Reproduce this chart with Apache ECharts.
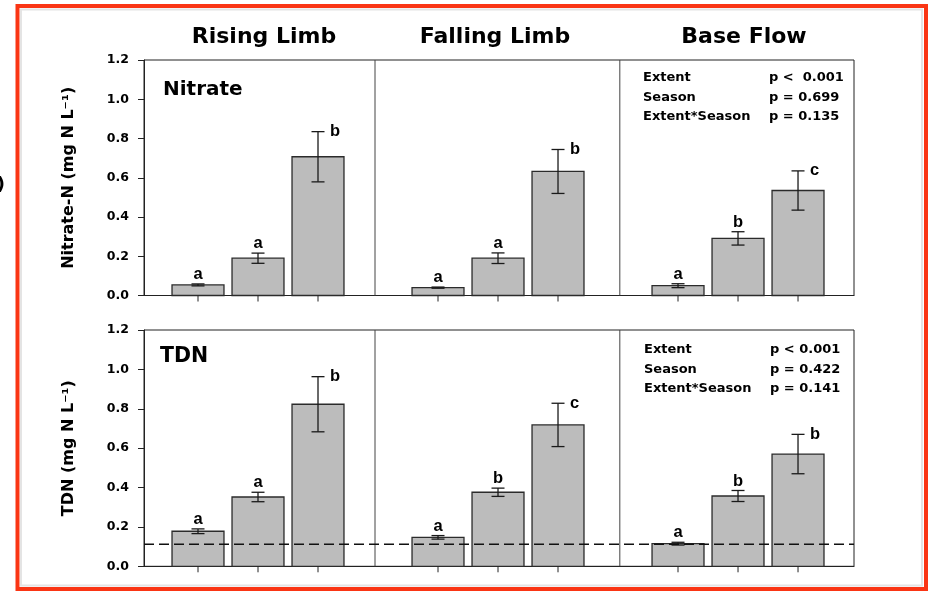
<!DOCTYPE html>
<html><head><meta charset="utf-8">
<script src="https://cdn.jsdelivr.net/npm/echarts@6/dist/echarts.min.js"></script>
<style>html,body{margin:0;padding:0;background:#fff}#c{width:929px;height:591px}</style>
</head><body><div id="c"></div>
<script>
// ---- data ----
const sections = ['Rising Limb', 'Falling Limb', 'Base Flow'];
const nitrateMean = [0.054, 0.190, 0.707, 0.040, 0.190, 0.632, 0.050, 0.291, 0.535];
const nitrateSE   = [0.005, 0.026, 0.128, 0.003, 0.027, 0.112, 0.010, 0.034, 0.100];
const nitrateLetters = ['a', 'a', 'b', 'a', 'a', 'b', 'a', 'b', 'c'];
const tdnMean = [0.178, 0.352, 0.823, 0.147, 0.376, 0.718, 0.115, 0.357, 0.570];
const tdnSE   = [0.012, 0.024, 0.140, 0.009, 0.021, 0.110, 0.007, 0.028, 0.100];
const tdnLetters = ['a', 'a', 'b', 'a', 'b', 'c', 'a', 'b', 'b'];
const tdnThreshold = 0.112;
const yMin = 0, yMax = 1.2, yStep = 0.2;
const nitrateStats = [['Extent', 'p <  0.001'], ['Season', 'p = 0.699'], ['Extent*Season', 'p = 0.135']];
const tdnStats = [['Extent', 'p < 0.001'], ['Season', 'p = 0.422'], ['Extent*Season', 'p = 0.141']];
const panelNames = ['Nitrate', 'TDN'];
const yTitles = ['Nitrate-N (mg N L\u207B\u00B9)', 'TDN (mg N L\u207B\u00B9)'];

// ---- layout helpers ----
const FONT = '"DejaVu Sans", sans-serif';
const LFONT = '"Liberation Sans", Arial, sans-serif';
const slotOf = i => Math.floor(i / 3) * 4 + (i % 3);   // 3 bars per section, gap slot between sections
const slots = nitrateMean.map((_, i) => slotOf(i));
const dividers = [2.95, 7.03];
const X_MIN = -0.9, X_MAX = 10.933;
const HALF = 0.433;

function barRender(letters) {
  return function (params, api) {
    const x = api.value(0), m = api.value(1), se = api.value(2);
    const grp = params.dataIndex % 3;
    const p0 = api.coord([x - HALF, 0]);
    const p1 = api.coord([x + HALF, m]);
    const base = api.coord([x, 0]);
    const t = api.coord([x, m + se]);
    const b = api.coord([x, m - se]);
    const cap = 6.5;
    const lineStyle = { stroke: '#1a1a1a', lineWidth: 1.3 };
    const children = [
      { type: 'rect', shape: { x: p0[0], y: p1[1], width: p1[0] - p0[0], height: p0[1] - p1[1] },
        style: { fill: '#bcbcbc', stroke: '#2b2b2b', lineWidth: 1.3 } },
      { type: 'line', shape: { x1: base[0], y1: base[1], x2: base[0], y2: base[1] + 6 }, style: { stroke: '#222', lineWidth: 1 } },
      { type: 'line', shape: { x1: t[0], y1: t[1], x2: b[0], y2: b[1] }, style: lineStyle },
      { type: 'line', shape: { x1: t[0] - cap, y1: t[1], x2: t[0] + cap, y2: t[1] }, style: lineStyle },
      { type: 'line', shape: { x1: b[0] - cap, y1: b[1], x2: b[0] + cap, y2: b[1] }, style: lineStyle }
    ];
    const letter = letters[params.dataIndex];
    if (grp < 2) {
      children.push({ type: 'text', x: t[0], y: t[1] - 1,
        style: { text: letter, fill: '#000', fontFamily: LFONT, fontWeight: 'bold', fontSize: 16.5, align: 'center', verticalAlign: 'bottom' } });
    } else {
      children.push({ type: 'text', x: t[0] + 12, y: t[1],
        style: { text: letter, fill: '#000', fontFamily: LFONT, fontWeight: 'bold', fontSize: 16.5, align: 'left', verticalAlign: 'middle' } });
    }
    return { type: 'group', children };
  };
}

function dividerRender(params, api) {
  const cs = params.coordSys;
  const x = api.coord([api.value(0), 0])[0];
  return { type: 'line', shape: { x1: x, y1: cs.y, x2: x, y2: cs.y + cs.height },
    style: { stroke: '#444', lineWidth: 1 } };
}
function thresholdRender(params, api) {
  const cs = params.coordSys;
  const y = api.coord([0, api.value(0)])[1];
  return { type: 'line', shape: { x1: cs.x, y1: y, x2: cs.x + cs.width, y2: y },
    style: { stroke: '#111', lineWidth: 1.4, lineDash: [10, 5] } };
}

const grids = [
  { left: 144, top: 60, width: 710, height: 235.5, show: true, borderColor: '#222', borderWidth: 1 },
  { left: 144, top: 330, width: 710, height: 236.3, show: true, borderColor: '#222', borderWidth: 1 }
];
const xAxes = grids.map((g, k) => ({
  gridIndex: k, type: 'value', min: X_MIN, max: X_MAX,
  axisLine: { show: true, onZero: false, lineStyle: { color: '#222', width: 1 } },
  axisTick: { show: false },
  axisLabel: { show: false }, splitLine: { show: false }
}));
const yAxes = grids.map((g, k) => ({
  gridIndex: k, type: 'value', min: yMin, max: yMax, interval: yStep,
  axisLine: { show: true, onZero: false, lineStyle: { color: '#222', width: 1 } },
  axisTick: { show: true, length: 6, lineStyle: { color: '#222', width: 1 } },
  axisLabel: { formatter: v => v.toFixed(1), fontFamily: FONT, fontWeight: 'bold', fontSize: 12.5, color: '#000', margin: 15 },
  splitLine: { show: false },
  name: yTitles[k], nameLocation: 'middle', nameGap: 67,
  nameTextStyle: { fontFamily: FONT, fontWeight: 'bold', fontSize: 16, color: '#000' }
}));

const series = [
  { type: 'custom', xAxisIndex: 0, yAxisIndex: 0, renderItem: barRender(nitrateLetters), clip: false,
    data: nitrateMean.map((m, i) => [slots[i], m, nitrateSE[i]]) },
  { type: 'custom', xAxisIndex: 1, yAxisIndex: 1, renderItem: barRender(tdnLetters), clip: false,
    data: tdnMean.map((m, i) => [slots[i], m, tdnSE[i]]) },
  { type: 'custom', xAxisIndex: 0, yAxisIndex: 0, renderItem: dividerRender, data: dividers.map(d => [d]) },
  { type: 'custom', xAxisIndex: 1, yAxisIndex: 1, renderItem: dividerRender, data: dividers.map(d => [d]) },
  { type: 'custom', xAxisIndex: 1, yAxisIndex: 1, renderItem: thresholdRender, data: [[tdnThreshold]], z: 10 }
];

const txt = (x, y, text, size, align, extra) => Object.assign({
  type: 'text', x, y, style: { text, fill: '#000', fontFamily: FONT, fontWeight: 'bold', fontSize: size,
    align: align || 'left', verticalAlign: 'middle' } }, extra || {});

const titleX = [264, 495, 744];
const graphic = [
  { type: 'rect', shape: { x: 21, y: 9.5, width: 901, height: 576 }, style: { fill: 'none', stroke: '#e4e4e4', lineWidth: 2 }, silent: true },
  { type: 'rect', shape: { x: 17.5, y: 6, width: 908.5, height: 583 }, style: { fill: 'none', stroke: '#fa3514', lineWidth: 4 }, silent: true },
  txt(5, 185, '(a)', 18, 'right'),
  ...sections.map((s, i) => txt(titleX[i], 37, s, 22, 'center')),
  txt(163, 90, panelNames[0], 20),
  txt(160, 357, panelNames[1], 20.5),
  ...nitrateStats.map((r, i) => txt(643, 78 + i * 19.5, r[0], 13)),
  ...nitrateStats.map((r, i) => txt(769, 78 + i * 19.5, r[1], 13)),
  ...tdnStats.map((r, i) => txt(644, 349.5 + i * 19.7, r[0], 13)),
  ...tdnStats.map((r, i) => txt(770, 349.5 + i * 19.7, r[1], 13))
];

const chart = echarts.init(document.getElementById('c'), null, { renderer: 'canvas' });
chart.setOption({
  backgroundColor: '#fff', animation: false,
  grid: grids, xAxis: xAxes, yAxis: yAxes, series, graphic
});
</script></body></html>
